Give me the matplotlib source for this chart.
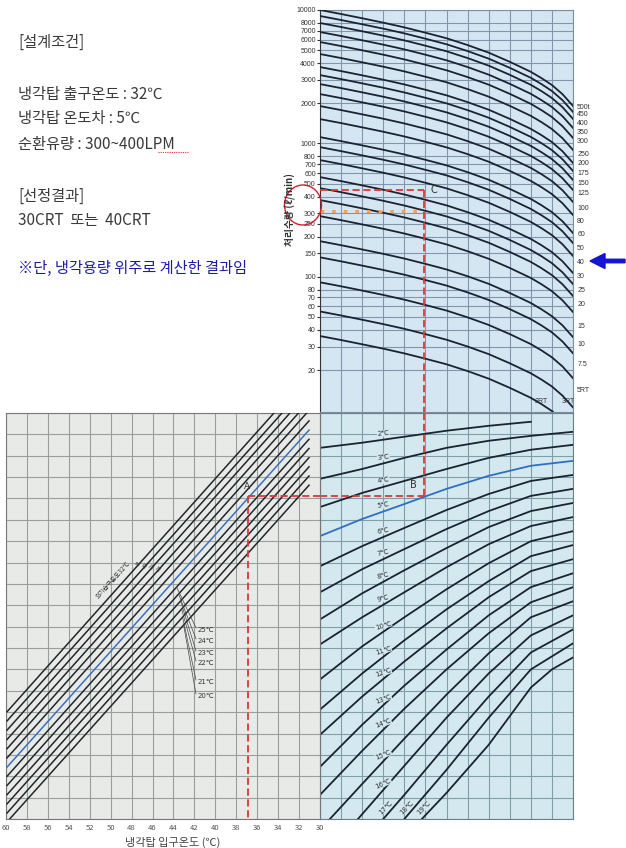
import numpy as np
import matplotlib
matplotlib.use('Agg')
import matplotlib.pyplot as plt
from matplotlib.patches import Ellipse, FancyArrow

plt.rcParams['font.family'] = ['Noto Sans CJK KR', 'DejaVu Sans']

W, H = 626, 848

# ---------- top chart : circulating flow (l/min) per tower size ----------
flow_ticks = [10000, 8000, 7000, 6000, 5000, 4000, 3000, 2000, 1000, 800, 700, 600,
              500, 400, 300, 250, 200, 150, 100, 80, 70, 60, 50, 40, 30, 20]
rt_names = ['500t', '450', '400', '350', '300', '250', '200', '175', '150', '125', '100',
            '80', '60', '50', '40', '30', '25', '20', '15', '10', '7.5', '5RT']
rt_label_flow = [1905, 1688, 1445, 1237, 1059, 846, 724, 609, 513, 431, 333,
                 266, 212, 167, 131, 103, 80.7, 63.4, 43.4, 31.8, 22.5, 14.4]
# flow at the left edge for each curve (500RT ... 3RT, 2RT)
rt_start_flow = [10000, 9016, 7990, 6839, 5754, 4677, 3735, 3252, 2784, 2343, 1905,
                 1522, 1115, 938, 750, 559, 462, 376, 285, 185, 140, 91, 55, 36]
# flow ratio along a curve
curve_x = [0, 1, 2, 3, 4, 5, 6, 7, 8, 9, 10, 10.5, 11, 11.5, 12]
flow_ratio = [1, 0.933, 0.867, 0.804, 0.741, 0.676, 0.614, 0.546, 0.479, 0.409, 0.344,
              0.309, 0.274, 0.234, 0.191]

# ---------- bottom right : cooling range curves ----------
range_names = ['2℃', '3℃', '4℃', '5℃', '6℃', '7℃', '8℃', '9℃', '10℃', '11℃',
               '12℃', '13℃', '14℃', '15℃', '16℃', '17℃', '18℃', '19℃']
range_x = [
    [0, 2, 4, 6, 8, 10],
    [0, 2, 4, 6, 8, 10, 12],
    [0, 2, 4, 6, 8, 10, 12],
    [0, 2, 4, 6, 8, 10, 12],
    [0, 2, 4, 6, 8, 10, 12],
    [0, 2, 4, 6, 8, 10, 12],
    [0, 2, 4, 6, 8, 10, 12],
    [0, 2, 4, 6, 8, 10, 12],
    [0, 2, 4, 6, 8, 10, 12],
    [0, 2, 4, 6, 8, 10, 12],
    [0, 2, 4, 6, 8, 10, 12],
    [0, 2, 4, 6, 8, 10, 12],
    [0, 2, 4, 6, 8, 10, 12],
    [0.47, 2, 4, 6, 8, 10, 12],
    [1.8, 4, 6, 8, 10, 12],
    [3.0, 4, 6, 8, 10, 12],
    [4.0, 6, 8, 10, 12],
    [4.83, 6, 8, 10, 11, 12],
]
range_y = [
    [17.37, 17.61, 17.89, 18.17, 18.40, 18.59],
    [15.92, 16.38, 16.90, 17.37, 17.70, 17.93, 18.12],
    [14.60, 15.26, 15.82, 16.38, 16.90, 17.28, 17.51],
    [13.24, 14.04, 14.74, 15.45, 16.06, 16.53, 16.76],
    [11.83, 12.77, 13.62, 14.46, 15.21, 15.82, 16.10],
    [10.61, 11.69, 12.63, 13.57, 14.41, 15.12, 15.45],
    [9.34, 10.56, 11.64, 12.68, 13.66, 14.41, 14.79],
    [8.17, 9.44, 10.61, 11.78, 12.86, 13.71, 14.13],
    [6.53, 8.08, 9.44, 10.75, 11.97, 13.00, 13.47],
    [5.12, 6.81, 8.36, 9.81, 11.13, 12.30, 12.82],
    [3.94, 5.73, 7.37, 8.92, 10.38, 11.60, 12.16],
    [2.44, 4.41, 6.24, 7.93, 9.53, 10.85, 11.50],
    [1.13, 3.19, 5.16, 7.00, 8.69, 10.14, 10.85],
    [0, 1.64, 3.76, 5.82, 7.75, 9.44, 10.19],
    [0, 2.49, 4.74, 6.81, 8.59, 9.53],
    [0, 1.13, 3.47, 5.73, 7.79, 8.87],
    [0, 2.30, 4.74, 7.00, 8.22],
    [0, 1.22, 3.47, 6.15, 7.00, 7.56],
]

# ---------- bottom left : wet bulb lines (inlet temp vs grid units) ----------
wb_temps = [32, 31, 30, 29, 28, 27, 26, 25, 24, 23, 22, 21, 20]
wb_x0 = [59.9] * 12 + [59.65]
wb_y0 = [5.02, 4.59, 4.16, 3.72, 3.29, 2.86, 2.43, 2.00, 1.57, 1.14, 0.71, 0.28, 0.0]
wb_x1 = [34.4, 33.63, 32.87, 32.05, 31.27] + [31.05] * 8
wb_y1 = [19, 19, 19, 19, 19, 18.63, 18.20, 17.77, 17.34, 16.91, 16.48, 16.05, 15.62]
inlet_ticks = list(range(60, 29, -2))

# reading path A-B-C
flow_c = 447
flow_dot = 310
x_c = 4.93
x_dot_end = 4.74
y_b = 15.12
temp_a = 36.9

notes = ['[설계조건]', '냉각탑 출구온도 : 32℃', '냉각탑 온도차 : 5℃', '순환유량 : 300~400LPM',
         '[선정결과]', '30CRT  또는  40CRT']
note_y = [42, 94, 118, 144, 196, 220]
remark = '※단, 냉각용량 위주로 계산한 결과임'

curve_c = '#1b2230'
red = '#e03535'


def px_axes(x0, y0, x1, y1):
    return fig.add_axes([x0 / W, 1 - y1 / H, (x1 - x0) / W, (y1 - y0) / H])


fig = plt.figure(figsize=(W / 100, H / 100), dpi=100)

# ================= top chart =================
ax = px_axes(320, 10, 573, 412)
ax.set_facecolor('#d5e6f3')
ax.set_yscale('log')
ax.set_xlim(0, 12)
ax.set_ylim(9.7, 10000)
for f in flow_ticks:
    ax.axhline(f, color='#8196ad', lw=0.8, zorder=1)
for x in range(13):
    ax.axvline(x, color='#8196ad', lw=0.8, zorder=1)
for f0 in rt_start_flow:
    ax.plot(curve_x, np.array(flow_ratio) * f0, color=curve_c, lw=1.3, zorder=3)
ax.set_yticks(flow_ticks)
ax.set_yticklabels([str(f) for f in flow_ticks])
ax.yaxis.set_minor_locator(matplotlib.ticker.NullLocator())
ax.tick_params(axis='y', labelsize=5, length=2, pad=1, colors='#333333')
for lab in ax.get_yticklabels():
    lab.set_family('Liberation Sans')
ax.set_xticks([])
for s in ['top', 'right', 'bottom']:
    ax.spines[s].set_color('#7d8fa3')
ax.spines['left'].set_color('#333333')

axr = ax.twinx()
axr.set_yscale('log')
axr.set_ylim(9.7, 10000)
axr.set_yticks(rt_label_flow)
axr.set_yticklabels(rt_names)
axr.yaxis.set_minor_locator(matplotlib.ticker.NullLocator())
axr.tick_params(axis='y', labelsize=5, length=0, pad=3, colors='#333333')
for lab in axr.get_yticklabels():
    lab.set_family('Liberation Sans')
for s in axr.spines.values():
    s.set_visible(False)

ax.text(10.2, 10.9, '2RT', fontsize=5, color='#333333', family='Liberation Sans', va='bottom', zorder=4)
ax.text(11.45, 10.9, '3RT', fontsize=5, color='#333333', family='Liberation Sans', va='bottom', zorder=4)

ax.plot([0, x_c], [flow_c, flow_c], color=red, lw=1.3, ls=(0, (4, 2)), zorder=5)
ax.plot([x_c, x_c], [flow_c, 9.7], color=red, lw=1.3, ls=(0, (4, 2)), zorder=5)
ax.plot([0, x_dot_end], [flow_dot, flow_dot], color='#f0a060', lw=2.2, ls=(0, (1.2, 2.6)), zorder=5)
ax.text(x_c + 0.3, flow_c, 'C', fontsize=7, color='#333333', va='center', family='DejaVu Sans')

fig.text(290 / W, 1 - 210 / H, '처리수량 (ℓ/min)', rotation=90, ha='center', va='center',
         fontsize=7, fontweight='bold', color='#333333')

# ================= bottom right =================
ab = px_axes(320, 413, 573, 819)
ab.set_facecolor('#d4e9ef')
ab.set_xlim(0, 12)
ab.set_ylim(0, 19)
for x in range(13):
    ab.axvline(x, color='#7f9ea8', lw=0.8, zorder=1)
for y in range(20):
    ab.axhline(y, color='#7f9ea8', lw=0.8, zorder=1)
for i, (name, xs, ys) in enumerate(zip(range_names, range_x, range_y)):
    col = '#2f6fc0' if name == '5℃' else curve_c
    ab.plot(xs, ys, color=col, lw=1.3, zorder=3)
    if xs[0] < 3:
        ly = np.interp(3, xs, ys) + 0.3
        ab.text(3, ly, name, fontsize=5, rotation=6 + i * 1.3, ha='center', va='center',
                color='#333333', zorder=4, family='DejaVu Sans',
                bbox=dict(fc='#d4e9ef', ec='none', pad=0.2))
    else:
        ab.text(xs[0] + 0.1, 0.55, name, fontsize=5, rotation=45, ha='center', va='center',
                color='#333333', zorder=4, family='DejaVu Sans',
                bbox=dict(fc='#d4e9ef', ec='none', pad=0.2))
ab.set_xticks([])
ab.set_yticks([])
for s in ab.spines.values():
    s.set_color('#6d8088')
ab.plot([0, x_c], [y_b, y_b], color=red, lw=1.3, ls=(0, (4, 2)), zorder=5)
ab.plot([x_c, x_c], [y_b, 19], color=red, lw=1.3, ls=(0, (4, 2)), zorder=5)
ab.text(x_c - 0.5, y_b + 0.35, 'B', fontsize=7, color='#333333', ha='center', family='DejaVu Sans')

# ================= bottom left =================
al = px_axes(6, 413, 320, 819)
al.set_facecolor('#e8eae8')
al.set_xlim(60, 30)
al.set_ylim(0, 19)
for t in inlet_ticks:
    al.axvline(t, color='#9b9f9b', lw=0.8, zorder=1)
for y in range(20):
    al.axhline(y, color='#9b9f9b', lw=0.8, zorder=1)
for k, t in enumerate(wb_temps):
    col = '#3d6fc0' if t == 26 else '#23262b'
    al.plot([wb_x0[k], wb_x1[k]], [wb_y0[k], wb_y1[k]], color=col, lw=1.1, zorder=3)


def wb_u(k, temp):
    return np.interp(temp, [wb_x1[k], wb_x0[k]], [wb_y1[k], wb_y0[k]])


al.text(49.74, wb_u(0, 49.74) + 0.6, '외기습구온도32℃', fontsize=4.5, rotation=48,
        ha='center', va='center', color='#333333')
for k in range(1, 5):
    tt = 60 - (138 + (k - 1) * 7 - 6) / 10.43
    al.text(tt, wb_u(k, tt) + 0.45, str(wb_temps[k]), fontsize=4, rotation=48,
            ha='center', va='center', color='#333333')
lab_y = [630, 641, 653, 663, 682, 696]
lab_t = [43.70, 43.51, 43.32, 43.22, 43.13, 43.03]
for j, k in enumerate(range(7, 13)):
    uy = (819 - lab_y[j]) / 21.37
    al.text(41.7, uy, f'{wb_temps[k]}℃', fontsize=5, ha='left', va='center', color='#333333',
            family='DejaVu Sans', zorder=4)
    al.plot([41.85, lab_t[j]], [uy + 0.1, wb_u(k, lab_t[j])], color='#444444', lw=0.5, zorder=4)

al.plot([temp_a, 30], [y_b, y_b], color=red, lw=1.3, ls=(0, (4, 2)), zorder=5)
al.plot([temp_a, temp_a], [y_b, 0], color=red, lw=1.3, ls=(0, (4, 2)), zorder=5)
al.text(temp_a + 0.1, y_b + 0.25, 'A', fontsize=6.5, color='#333333', ha='center', va='bottom',
        family='DejaVu Sans')
al.set_yticks([])
al.set_xticks(inlet_ticks)
al.set_xticklabels([str(t) for t in inlet_ticks])
al.tick_params(axis='x', labelsize=5.5, length=0, pad=3.5, colors='#555555')
for s in al.spines.values():
    s.set_color('#777777')
fig.text(173 / W, 1 - 842 / H, '냉각탑 입구온도 (℃)', ha='center', va='center', fontsize=8,
         color='#444444')

# ================= annotations =================
fig.add_artist(Ellipse((303 / 100, (H - 205) / 100), 0.37, 0.40, transform=fig.dpi_scale_trans,
                       fill=False, edgecolor='#d02030', lw=1.0))
fig.add_artist(FancyArrow(6.25, (H - 261) / 100, -0.35, 0, width=0.035, head_width=0.15,
                          head_length=0.15, length_includes_head=True, color='#1414d2',
                          transform=fig.dpi_scale_trans))

for s, y in zip(notes, note_y):
    fig.text(18 / W, 1 - y / H, s, fontsize=11, ha='left', va='center', color='#3a3a3a')
fig.text(18 / W, 1 - 268 / H, remark, fontsize=11, ha='left', va='center', color='#1c1ca0')
fig.add_artist(plt.Line2D([158 / W, 188 / W], [1 - 152 / H, 1 - 152 / H], color='#e03030',
                          lw=0.8, ls=(0, (1, 1))))

fig.savefig('out.png', dpi=100)
